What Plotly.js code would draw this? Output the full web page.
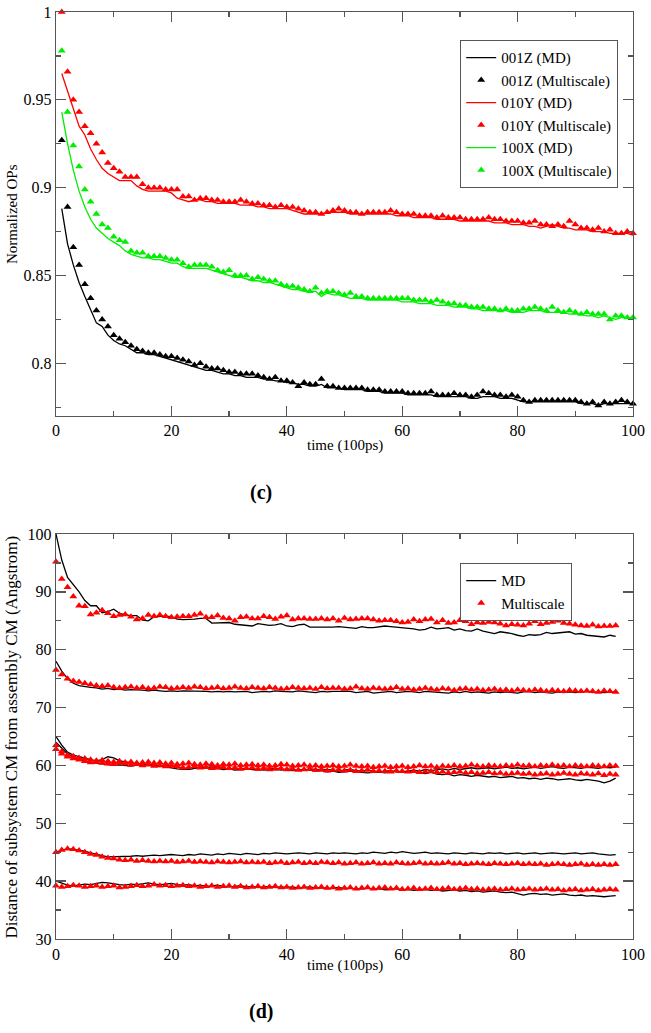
<!DOCTYPE html>
<html>
<head>
<meta charset="utf-8">
<script src="https://cdn.plot.ly/plotly-3.0.1.min.js"></script>
<style>html,body{margin:0;padding:0;background:#fff;}#chart{width:651px;height:1033px;}</style>
</head>
<body>
<div id="chart"></div>
<script>
// ---------- Panel (c): normalized order parameters ----------
const timeC = [1,2,3,4,5,6,7,8,9,10,11,12,13,14,15,16,17,18,19,20,21,22,23,24,25,26,27,28,29,30,31,32,33,34,35,36,37,38,39,40,41,42,43,44,45,46,47,48,49,50,51,52,53,54,55,56,57,58,59,60,61,62,63,64,65,66,67,68,69,70,71,72,73,74,75,76,77,78,79,80,81,82,83,84,85,86,87,88,89,90,91,92,93,94,95,96,97,98,99,100];

const z001MD = [0.888,0.868,0.856,0.846,0.838,0.830,0.823,0.821,0.816,0.813,0.811,0.810,0.808,0.806,0.806,0.805,0.805,0.804,0.803,0.802,0.801,0.800,0.799,0.798,0.797,0.796,0.796,0.795,0.794,0.794,0.793,0.793,0.792,0.792,0.792,0.791,0.791,0.790,0.790,0.789,0.789,0.788,0.788,0.787,0.787,0.788,0.786,0.786,0.786,0.785,0.785,0.785,0.785,0.784,0.784,0.784,0.783,0.783,0.783,0.783,0.782,0.782,0.782,0.782,0.782,0.781,0.781,0.781,0.781,0.781,0.781,0.780,0.780,0.781,0.781,0.781,0.780,0.780,0.780,0.779,0.778,0.778,0.778,0.778,0.778,0.778,0.778,0.778,0.778,0.778,0.777,0.777,0.777,0.776,0.777,0.777,0.777,0.777,0.777,0.777];
const z001MS = [0.927,0.889,0.866,0.856,0.845,0.837,0.830,0.825,0.821,0.816,0.814,0.812,0.810,0.808,0.807,0.806,0.806,0.805,0.804,0.804,0.803,0.802,0.801,0.799,0.800,0.798,0.797,0.797,0.796,0.795,0.795,0.794,0.794,0.794,0.793,0.792,0.791,0.792,0.790,0.790,0.789,0.787,0.789,0.788,0.788,0.791,0.787,0.787,0.786,0.786,0.786,0.786,0.786,0.785,0.785,0.785,0.784,0.784,0.784,0.784,0.783,0.783,0.783,0.783,0.784,0.782,0.782,0.782,0.783,0.782,0.782,0.781,0.782,0.784,0.783,0.782,0.782,0.781,0.782,0.781,0.779,0.778,0.779,0.779,0.779,0.779,0.779,0.779,0.779,0.779,0.778,0.777,0.778,0.776,0.778,0.777,0.778,0.779,0.778,0.777];
const y010MD = [0.965,0.955,0.945,0.935,0.930,0.922,0.916,0.911,0.908,0.906,0.904,0.904,0.904,0.901,0.899,0.898,0.898,0.898,0.898,0.897,0.894,0.893,0.892,0.893,0.893,0.892,0.892,0.891,0.891,0.891,0.891,0.890,0.890,0.890,0.889,0.889,0.888,0.888,0.888,0.888,0.887,0.886,0.885,0.885,0.885,0.885,0.886,0.886,0.886,0.886,0.885,0.885,0.885,0.885,0.885,0.885,0.885,0.885,0.884,0.884,0.884,0.883,0.883,0.883,0.883,0.882,0.882,0.882,0.882,0.881,0.881,0.881,0.881,0.881,0.881,0.880,0.880,0.880,0.879,0.879,0.879,0.878,0.878,0.877,0.878,0.879,0.878,0.877,0.877,0.876,0.876,0.876,0.875,0.875,0.875,0.874,0.874,0.874,0.874,0.873];
const y010MS = [1.000,0.966,0.950,0.943,0.935,0.931,0.925,0.920,0.914,0.911,0.909,0.906,0.906,0.906,0.902,0.900,0.900,0.900,0.899,0.899,0.899,0.895,0.895,0.893,0.894,0.894,0.893,0.893,0.892,0.892,0.892,0.893,0.892,0.891,0.891,0.890,0.890,0.889,0.890,0.889,0.889,0.888,0.887,0.886,0.886,0.885,0.886,0.887,0.888,0.887,0.886,0.886,0.885,0.886,0.886,0.886,0.886,0.887,0.886,0.885,0.885,0.885,0.884,0.884,0.884,0.883,0.884,0.883,0.883,0.883,0.882,0.882,0.882,0.882,0.883,0.882,0.882,0.881,0.881,0.881,0.880,0.880,0.881,0.879,0.879,0.878,0.879,0.878,0.881,0.879,0.877,0.877,0.876,0.877,0.875,0.876,0.874,0.874,0.875,0.874];
const x100MD = [0.943,0.925,0.910,0.898,0.889,0.882,0.877,0.874,0.871,0.869,0.867,0.864,0.862,0.861,0.860,0.860,0.859,0.859,0.858,0.857,0.857,0.855,0.854,0.854,0.854,0.854,0.853,0.852,0.851,0.850,0.849,0.849,0.848,0.847,0.847,0.846,0.846,0.845,0.844,0.843,0.842,0.842,0.841,0.841,0.841,0.838,0.840,0.839,0.839,0.838,0.837,0.837,0.837,0.836,0.836,0.836,0.836,0.836,0.836,0.835,0.835,0.835,0.834,0.834,0.834,0.833,0.833,0.833,0.832,0.832,0.832,0.831,0.831,0.830,0.830,0.830,0.830,0.830,0.829,0.829,0.829,0.830,0.830,0.830,0.829,0.829,0.829,0.829,0.828,0.828,0.828,0.827,0.827,0.826,0.827,0.826,0.825,0.826,0.826,0.826];
const x100MS = [0.978,0.943,0.924,0.912,0.899,0.892,0.885,0.879,0.877,0.872,0.870,0.869,0.864,0.863,0.863,0.861,0.861,0.861,0.860,0.859,0.859,0.857,0.855,0.856,0.856,0.856,0.855,0.853,0.852,0.853,0.850,0.850,0.850,0.848,0.849,0.848,0.847,0.847,0.845,0.844,0.844,0.843,0.842,0.841,0.843,0.840,0.841,0.841,0.840,0.839,0.840,0.838,0.838,0.837,0.837,0.837,0.837,0.837,0.837,0.837,0.837,0.836,0.836,0.836,0.835,0.836,0.835,0.834,0.834,0.833,0.833,0.832,0.832,0.832,0.831,0.831,0.830,0.831,0.830,0.830,0.831,0.831,0.832,0.831,0.830,0.832,0.830,0.829,0.830,0.829,0.828,0.829,0.828,0.828,0.828,0.825,0.827,0.827,0.826,0.826];

// ---------- Panel (d): distance of subsystem CM from assembly CM ----------
const timeD = [0,1,2,3,4,5,6,7,8,9,10,11,12,13,14,15,16,17,18,19,20,21,22,23,24,25,26,27,28,29,30,31,32,33,34,35,36,37,38,39,40,41,42,43,44,45,46,47,48,49,50,51,52,53,54,55,56,57,58,59,60,61,62,63,64,65,66,67,68,69,70,71,72,73,74,75,76,77,78,79,80,81,82,83,84,85,86,87,88,89,90,91,92,93,94,95,96,97];

const md1 = [100,95.5,92.5,91.3,90.0,88.5,87.6,87.6,86.4,86.6,87.0,86.3,86.0,85.9,85.9,85.1,85.0,85.7,85.8,85.8,85.7,85.3,85.2,85.2,85.3,85.4,85.4,84.6,84.6,84.6,84.7,84.4,84.3,84.2,84.1,84.5,84.4,84.2,84.3,84.5,84.1,84.0,84.3,84.4,83.9,83.9,83.9,83.8,83.9,84.0,83.9,83.8,83.7,84.0,83.8,83.8,83.9,84.1,84.0,83.9,83.8,83.8,83.6,83.4,83.5,83.9,83.6,83.7,83.8,83.4,83.6,83.3,83.2,83.6,83.2,83.0,82.8,83.1,83.0,82.8,82.5,82.3,82.6,82.5,82.6,83.0,82.8,82.9,83.0,83.1,82.7,82.8,82.5,82.4,82.3,82.2,82.5,82.3];
const ms1 = [95.2,92.2,90.8,89.2,87.6,87.5,86.1,86.4,86.8,86.3,85.8,86.0,86.1,85.7,85.2,85.4,86.0,85.8,86.0,85.8,85.6,85.7,85.8,85.8,86.0,86.2,85.6,85.6,85.9,85.5,85.4,85.0,85.6,85.7,85.4,85.4,85.8,85.6,85.3,85.7,85.9,85.2,85.4,85.4,85.3,85.3,85.4,85.2,85.4,85.0,85.5,85.2,85.3,85.4,85.4,85.2,85.0,85.1,85.1,84.9,84.7,84.8,85.2,84.9,85.2,85.3,84.7,85.1,84.6,84.7,85.1,84.9,84.4,84.7,84.6,84.8,84.7,84.5,84.2,84.4,84.3,84.2,84.5,84.9,84.4,84.6,84.8,85.0,84.6,84.5,84.3,84.2,84.1,84.3,84.0,84.1,84.1,84.2];
const md2 = [78.0,76.3,75.0,74.2,73.8,73.6,73.5,73.4,73.2,73.3,73.1,73.2,73.0,73.1,73.1,73.0,72.9,73.0,72.9,72.8,72.9,72.8,72.9,72.9,72.8,72.8,72.8,72.7,72.8,72.7,72.8,72.7,72.8,72.8,72.6,72.7,72.8,72.7,72.9,72.8,72.8,72.7,72.9,72.8,72.7,72.6,72.8,72.7,72.8,72.8,72.7,72.8,72.6,72.7,72.8,72.5,72.6,72.7,72.8,72.6,72.7,72.8,72.7,72.6,72.8,72.7,72.6,72.6,72.5,72.7,72.6,72.8,72.6,72.7,72.6,72.5,72.7,72.6,72.7,72.6,72.5,72.7,72.8,72.6,72.7,72.6,72.5,72.7,72.6,72.7,72.6,72.7,72.8,72.6,72.7,72.6,72.7,72.7];
const ms2 = [76.5,75.7,75.0,74.6,74.4,74.2,74.0,73.8,73.7,73.8,73.5,73.4,73.5,73.6,73.4,73.5,73.3,73.4,73.6,73.5,73.3,73.4,73.5,73.4,73.6,73.5,73.3,73.4,73.5,73.3,73.4,73.6,73.4,73.3,73.5,73.4,73.3,73.5,73.4,73.2,73.3,73.5,73.4,73.3,73.4,73.2,73.5,73.3,73.4,73.4,73.2,73.3,73.6,73.3,73.2,73.4,73.3,73.2,73.3,73.5,73.2,73.3,73.1,73.2,73.4,73.2,73.1,73.3,73.2,73.0,73.2,73.3,73.1,73.2,73.0,73.1,73.2,73.0,73.1,72.9,73.1,73.0,72.9,73.1,73.0,72.8,73.0,72.9,72.8,73.0,72.9,72.8,72.9,72.8,72.7,72.9,72.8,72.7];
const md3 = [65.0,63.5,62.3,61.8,61.5,61.2,61.0,60.8,61.0,61.5,61.3,60.8,60.6,60.4,60.3,60.2,60.0,60.1,59.9,59.8,59.6,59.4,59.3,59.3,59.5,59.8,59.6,59.4,59.5,59.3,59.4,59.2,59.3,59.5,59.3,59.4,59.2,59.3,59.4,59.2,59.4,59.3,59.1,59.2,59.4,59.3,59.2,59.3,59.1,59.0,59.2,59.3,59.1,59.0,59.2,59.1,58.9,59.0,59.1,58.9,58.8,59.0,58.9,58.7,58.6,58.8,58.5,58.4,58.5,58.2,58.4,58.3,58.1,58.3,58.2,58.0,58.1,57.9,58.0,58.1,57.8,57.9,57.7,57.8,57.6,57.8,57.7,57.5,57.6,57.7,57.5,57.4,57.6,57.5,57.3,57.0,57.3,57.8];
const ms3 = [63.5,62.4,61.8,61.6,61.3,61.2,61.0,60.8,60.9,60.7,60.6,60.7,60.5,60.6,60.4,60.5,60.6,60.4,60.5,60.3,60.4,60.2,60.3,60.4,60.2,60.1,60.3,60.2,60.0,60.2,60.1,60.3,60.0,60.1,60.2,60.0,60.1,59.9,60.0,60.2,60.1,59.9,60.0,60.1,59.9,60.0,59.8,59.9,60.0,59.8,59.9,60.1,59.9,59.8,59.9,59.7,59.8,59.9,59.7,59.8,59.9,59.7,59.8,60.0,59.8,59.9,59.7,59.9,59.8,60.0,59.8,59.9,60.1,59.9,59.8,60.0,59.9,59.8,60.0,59.9,60.1,59.9,60.0,59.8,60.0,59.9,60.1,59.9,60.0,59.8,60.0,59.9,59.8,60.0,59.9,59.8,60.0,59.9];
const md4 = [64.0,63.0,62.0,61.5,61.0,60.8,60.5,60.4,60.3,60.2,60.0,60.1,60.0,59.9,60.1,60.0,60.2,59.9,59.8,60.0,59.9,59.7,59.5,59.4,59.5,59.7,59.6,59.8,59.6,59.5,59.4,59.5,59.3,59.4,59.3,59.2,59.3,59.4,59.5,59.3,59.2,59.1,59.2,59.3,59.2,59.0,59.1,58.9,59.0,58.8,58.9,59.0,58.9,58.8,58.7,58.8,58.9,58.7,58.8,59.0,58.9,59.1,59.2,59.0,59.3,59.1,59.3,59.4,59.2,59.5,59.3,59.4,59.6,59.4,59.5,59.6,59.4,59.5,59.7,59.5,59.6,59.4,59.6,59.7,59.5,59.6,59.8,59.6,59.5,59.7,59.6,59.5,59.7,59.6,59.5,59.7,59.6,59.7];
const ms4 = [62.8,62.0,61.5,61.2,61.0,60.7,60.5,60.6,60.4,60.3,60.2,60.4,60.3,60.1,60.2,60.0,60.1,59.9,60.0,59.8,59.9,59.8,59.6,59.7,59.8,59.6,59.7,59.5,59.6,59.7,59.5,59.6,59.4,59.5,59.6,59.4,59.5,59.3,59.4,59.5,59.3,59.4,59.2,59.3,59.4,59.2,59.3,59.1,59.2,59.3,59.1,59.2,59.0,59.1,59.2,59.0,59.1,59.0,58.9,59.1,59.0,58.9,59.0,58.8,58.9,59.0,58.8,58.9,58.7,58.8,58.9,58.7,58.8,58.6,58.7,58.8,58.6,58.7,58.5,58.6,58.7,58.5,58.6,58.4,58.5,58.6,58.4,58.5,58.7,58.5,58.4,58.6,58.5,58.4,58.6,58.3,58.5,58.4];
const md5 = [45.0,45.3,45.6,45.5,45.4,45.2,44.9,44.6,44.4,44.2,44.2,44.3,44.2,44.3,44.4,44.3,44.4,44.5,44.4,44.5,44.6,44.5,44.4,44.6,44.5,44.7,44.6,44.5,44.7,44.6,44.8,44.7,44.6,44.8,44.7,44.6,44.8,44.7,44.9,44.8,44.7,44.8,44.9,44.8,44.7,44.9,44.8,44.7,44.9,44.8,44.9,44.8,44.7,44.9,44.8,45.0,44.9,44.8,45.0,44.9,45.1,44.9,44.8,44.9,45.0,44.8,44.9,44.8,44.7,44.9,44.8,44.7,44.9,44.8,44.7,44.9,44.8,44.9,44.7,44.8,44.9,44.7,44.8,44.9,44.7,44.8,44.9,44.8,44.7,44.8,44.9,44.7,44.8,44.9,44.7,44.6,44.5,44.6];
const ms5 = [45.0,45.4,45.6,45.5,45.3,45.0,44.7,44.5,44.2,44.0,43.9,43.7,43.6,43.7,43.5,43.6,43.5,43.4,43.5,43.4,43.5,43.3,43.4,43.5,43.3,43.4,43.3,43.2,43.4,43.3,43.2,43.3,43.4,43.2,43.3,43.2,43.3,43.1,43.2,43.3,43.1,43.2,43.3,43.1,43.2,43.1,43.3,43.2,43.1,43.2,43.0,43.1,43.2,43.0,43.1,43.2,43.0,43.1,43.0,43.2,43.1,43.0,43.1,43.2,43.0,43.1,43.0,43.1,43.2,43.0,43.1,42.9,43.0,43.1,43.0,42.9,43.1,43.0,42.9,43.0,43.1,42.9,43.0,42.9,43.0,42.8,42.9,43.0,42.9,42.8,42.9,43.0,42.8,42.9,42.8,42.9,42.8,42.9];
const md6 = [40.0,39.6,39.3,39.2,39.3,39.5,39.4,39.6,39.8,39.7,39.5,39.4,39.3,39.5,39.4,39.6,39.7,39.5,39.4,39.5,39.6,39.4,39.3,39.4,39.2,39.3,39.1,39.2,39.3,39.1,39.0,39.1,39.2,39.0,39.1,38.9,39.0,39.1,38.9,39.0,38.9,39.0,38.8,38.9,39.0,38.8,38.9,38.7,38.8,38.9,38.7,38.8,38.6,38.7,38.8,38.6,38.7,38.5,38.6,38.7,38.5,38.6,38.4,38.5,38.6,38.4,38.5,38.3,38.4,38.5,38.3,38.4,38.2,38.3,38.1,38.2,38.3,38.1,38.0,38.1,37.9,37.6,37.8,37.9,37.7,37.8,37.6,37.7,37.8,37.6,37.5,37.6,37.4,37.5,37.4,37.3,37.4,37.5];
const ms6 = [39.2,39.0,39.1,39.3,39.2,39.0,39.1,39.2,39.0,39.1,39.2,38.9,39.0,39.1,39.3,39.1,39.2,39.4,39.2,39.3,39.1,39.2,39.3,39.1,39.2,39.0,39.1,39.2,39.0,39.1,39.2,39.0,39.1,38.9,39.0,39.1,38.9,39.0,39.1,38.9,39.0,38.8,38.9,39.0,38.8,38.9,39.0,38.8,38.9,38.7,38.8,38.9,38.7,38.8,38.9,38.7,38.8,38.9,38.7,38.8,38.6,38.7,38.8,38.6,38.7,38.8,38.6,38.7,38.8,38.6,38.7,38.8,38.6,38.7,38.5,38.6,38.7,38.5,38.6,38.7,38.5,38.6,38.7,38.5,38.6,38.7,38.5,38.6,38.4,38.5,38.6,38.4,38.5,38.6,38.4,38.5,38.6,38.5];

const mdSetsD = [md1, md2, md3, md4, md5, md6];
const msSetsD = [ms1, ms2, ms3, ms4, ms5, ms6];

const FONT = '"Liberation Serif", "Times New Roman", Times, serif';
const AXC = '#555555';
const GREEN = '#00ee00';

const traces = [];
function mdLine(x, y, color, name, legend, show) {
  return {x: x, y: y, type: 'scatter', mode: 'lines', name: name, showlegend: show,
    legend: legend, line: {color: color, width: 1.3}, xaxis: legend === 'legend' ? 'x' : 'x2',
    yaxis: legend === 'legend' ? 'y' : 'y2', cliponaxis: false};
}
function msPts(x, y, color, name, legend, show) {
  return {x: x, y: y, type: 'scatter', mode: 'markers', name: name, showlegend: show,
    legend: legend, marker: {symbol: 'triangle-up', size: 7, color: color},
    xaxis: legend === 'legend' ? 'x' : 'x2', yaxis: legend === 'legend' ? 'y' : 'y2', cliponaxis: false};
}
traces.push(mdLine(timeC, z001MD, '#000000', '001Z (MD)', 'legend', true));
traces.push(msPts(timeC, z001MS, '#000000', '001Z (Multiscale)', 'legend', true));
traces.push(mdLine(timeC, y010MD, '#ff0000', '010Y (MD)', 'legend', true));
traces.push(msPts(timeC, y010MS, '#ff0000', '010Y (Multiscale)', 'legend', true));
traces.push(mdLine(timeC, x100MD, GREEN, '100X (MD)', 'legend', true));
traces.push(msPts(timeC, x100MS, GREEN, '100X (Multiscale)', 'legend', true));

mdSetsD.forEach((s, i) => traces.push(mdLine(timeD, s, '#000000', 'MD', 'legend2', i === 0)));
msSetsD.forEach((s, i) => traces.push(msPts(timeD, s, '#ff0000', 'Multiscale', 'legend2', i === 0)));

function axisBase() {
  return {showgrid: false, zeroline: false, showline: true, linecolor: AXC, linewidth: 1.3,
    mirror: 'allticks', ticks: 'inside', ticklen: 10, tickwidth: 1.3, tickcolor: AXC,
    tickfont: {family: FONT, size: 16, color: '#000'}};
}
const xa = Object.assign(axisBase(), {range: [0, 100], dtick: 20, tick0: 0, anchor: 'y',
  minor: {ticks: 'inside', ticklen: 5, dtick: 10, tickcolor: AXC, tickwidth: 1.3}});
const ya = Object.assign(axisBase(), {range: [0.77, 1.0], dtick: 0.05, tick0: 0, anchor: 'x',
  domain: [0.5642, 1.0], minor: {ticks: 'inside', ticklen: 5, dtick: 0.025, tickcolor: AXC, tickwidth: 1.3}});
const xa2 = Object.assign(axisBase(), {range: [0, 100], dtick: 20, tick0: 0, anchor: 'y2',
  minor: {ticks: 'inside', ticklen: 5, dtick: 10, tickcolor: AXC, tickwidth: 1.3}});
const ya2 = Object.assign(axisBase(), {range: [30, 100], dtick: 10, tick0: 0, anchor: 'x2',
  domain: [0, 0.4369], minor: {ticks: 'inside', ticklen: 5, dtick: 5, tickcolor: AXC, tickwidth: 1.3}});

const legendStyle = {font: {family: FONT, size: 15, color: '#000'}, bgcolor: '#ffffff',
  bordercolor: AXC, borderwidth: 1.3, xanchor: 'left', yanchor: 'top', tracegroupgap: 0, itemwidth: 30};

const layout = {
  width: 651, height: 1033,
  margin: {l: 56, r: 18, t: 12, b: 94},
  paper_bgcolor: '#ffffff', plot_bgcolor: '#ffffff',
  font: {family: FONT, color: '#000'},
  xaxis: xa, yaxis: ya, xaxis2: xa2, yaxis2: ya2,
  legend: Object.assign({x: 0.70, y: 0.9698}, legendStyle),
  legend2: Object.assign({x: 0.70, y: 0.4056}, legendStyle),
  annotations: [
    {text: 'time (100ps)', xref: 'paper', yref: 'paper', x: 0.5, y: 0.5329, showarrow: false,
      xanchor: 'center', yanchor: 'middle', font: {family: FONT, size: 15}},
    {text: 'Normalized OPs', xref: 'paper', yref: 'paper', x: -0.0763, y: 0.782, showarrow: false,
      textangle: -90, xanchor: 'center', yanchor: 'middle', font: {family: FONT, size: 15}},
    {text: '<b>(c)</b>', xref: 'paper', yref: 'paper', x: 0.355, y: 0.4822, showarrow: false,
      xanchor: 'center', yanchor: 'middle', font: {family: FONT, size: 20}},
    {text: 'time (100ps)', xref: 'paper', yref: 'paper', x: 0.5, y: -0.0291, showarrow: false,
      xanchor: 'center', yanchor: 'middle', font: {family: FONT, size: 15}},
    {text: 'Distance of subsystem CM from assembly CM (Angstrom)', xref: 'paper', yref: 'paper',
      x: -0.0763, y: 0.2184, showarrow: false, textangle: -90, xanchor: 'center', yanchor: 'middle',
      font: {family: FONT, size: 17}},
    {text: '<b>(d)</b>', xref: 'paper', yref: 'paper', x: 0.355, y: -0.0787, showarrow: false,
      xanchor: 'center', yanchor: 'middle', font: {family: FONT, size: 20}}
  ]
};

Plotly.newPlot('chart', traces, layout, {displayModeBar: false, staticPlot: true});
</script>
</body>
</html>
